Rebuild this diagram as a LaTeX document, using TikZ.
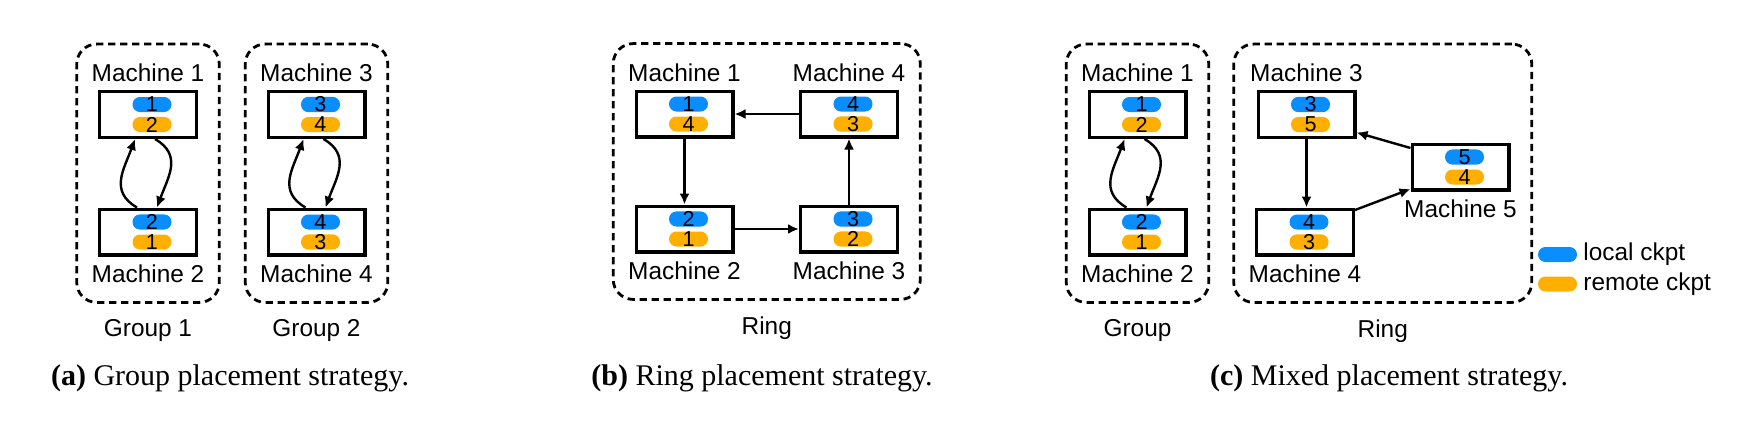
\documentclass[tikz,border=0pt]{standalone}
\usepackage{fontspec}
\setmainfont{Liberation Sans}
\newfontfamily\capfont{Liberation Serif}
\usepackage{tikz}
\usetikzlibrary{arrows.meta,positioning,fit,calc}
\definecolor{ckblue}{HTML}{0A8DFF}
\definecolor{ckorange}{HTML}{FFAF00}
\tikzset{
  mbox/.style ={draw, line width=1.7pt, minimum width=48.3pt, minimum height=22.8pt, inner sep=0pt},
  pill/.style ={rounded corners=3.7pt, minimum width=19.5pt, minimum height=7.5pt, inner sep=0pt,
                font=\fontsize{10.8}{10}\selectfont},
  loc/.style  ={pill, fill=ckblue},
  rem/.style  ={pill, fill=ckorange},
  mlab/.style ={inner sep=0pt, outer sep=0pt, font=\fontsize{12.2}{14}\selectfont},
  glab/.style ={mlab},
  grp/.style  ={draw, line width=1.4pt, dash pattern=on 3.6pt off 2.4pt, rounded corners=10pt,
                inner xsep=7.5pt, inner ysep=10pt},
  flow/.style ={-{Latex[length=5.5pt,width=5pt]}, line width=1.2pt},
  captxt/.style ={inner sep=0pt, font=\capfont\fontsize{15}{18}\selectfont},
}
\begin{document}
\begin{tikzpicture}[x=0.5pt,y=0.5pt]
  \useasboundingbox (0,0) rectangle (1738,420);
  % --- machines, each with a local and a remote ckpt ---
  \foreach \n/\x/\y/\l/\r in {a1/148/305.5/1/2, a2/148/188/2/1, a3/316.5/305.5/3/4, a4/316.5/188/4/3,
      b1/684.5/306/1/4, b4/849/306/4/3, b2/684.5/191/2/1, b3/849/191/3/2,
      c1/1137.5/305.5/1/2, c2/1137.5/188/2/1, c3/1306.5/305.5/3/5, c5/1460.5/253/5/4, c4/1305/188/4/3}{
    \node[mbox] (\n) at (\x,\y) {};
    \node[loc] (\n-loc) at ([xshift=2pt,yshift=5pt]\n.center) {\l};
    \node[rem] (\n-rem) at ([xshift=2pt,yshift=-5pt]\n.center) {\r};
  }
  % --- machine names ---
  \node[mlab,above=4pt of a1](a1-t){Machine 1};
  \node[mlab,below=4pt of a2](a2-t){Machine 2};
  \node[mlab,above=4pt of a3](a3-t){Machine 3};
  \node[mlab,below=4pt of a4](a4-t){Machine 4};
  \node[mlab,above=4pt of b1](b1-t){Machine 1};
  \node[mlab,above=4pt of b4](b4-t){Machine 4};
  \node[mlab,below=4pt of b2](b2-t){Machine 2};
  \node[mlab,below=4pt of b3](b3-t){Machine 3};
  \node[mlab,above=4pt of c1](c1-t){Machine 1};
  \node[mlab,below=4pt of c2](c2-t){Machine 2};
  \node[mlab,above=4pt of c3](c3-t){Machine 3};
  \node[mlab,below=4pt of c5](c5-t){Machine 5};
  \node[mlab,below=4pt of c4](c4-t){Machine 4};
  % --- (a) group placement ---
  \node[grp,fit=(a1-t)(a2-t)](ga1){};
  \node[grp,fit=(a3-t)(a4-t)](ga2){};
  \node[glab,below=8pt of ga1](ga1-t){Group 1};
  \node[glab,below=8pt of ga2](ga2-t){Group 2};
  \draw[flow] ([xshift=-5.5pt]a2.north) to[out=150,in=-110,looseness=1.2] ([xshift=-6.5pt]a1.south);
  \draw[flow] ([xshift=3.5pt]a1.south) to[out=-30,in=70,looseness=1.2] ([xshift=4.5pt]a2.north);
  \draw[flow] ([xshift=-5.5pt]a4.north) to[out=150,in=-110,looseness=1.2] ([xshift=-6.5pt]a3.south);
  \draw[flow] ([xshift=3.5pt]a3.south) to[out=-30,in=70,looseness=1.2] ([xshift=4.5pt]a4.north);
  % --- (b) ring placement ---
  \node[grp,fit=(b1-t)(b4-t)(b2-t)(b3-t)](gb){};
  \node[glab,below=8pt of gb](gb-t){Ring};
  \draw[flow] (b4) -- (b1);
  \draw[flow] (b1) -- (b2);
  \draw[flow] (b2) -- (b3);
  \draw[flow] (b3) -- (b4);
  % --- (c) mixed placement ---
  \node[grp,fit=(c1-t)(c2-t)](gc1){};
  \node[glab,below=8pt of gc1](gc1-t){Group};
  \node[grp,fit=(c3-t)(c4-t)(c5-t)](gc2){};
  \node[glab,below=8pt of gc2](gc2-t){Ring};
  \draw[flow] ([xshift=-5.5pt]c2.north) to[out=150,in=-110,looseness=1.2] ([xshift=-6.5pt]c1.south);
  \draw[flow] ([xshift=3.5pt]c1.south) to[out=-30,in=70,looseness=1.2] ([xshift=4.5pt]c2.north);
  \draw[flow] ([yshift=9.5pt]c5.west) -- ([yshift=-9pt]c3.east);
  \draw[flow] (c3.south) -- (c3.south|-c4.north);
  \draw[flow] ([yshift=11pt]c4.east) -- ([yshift=-11pt]c5.west);
  % --- legend ---
  \node[loc](lg-loc) at (1557.5,165.5){};
  \node[rem](lg-rem) at (1557.5,136){};
  \node[mlab,right=3pt of lg-loc](lg-loc-t){local ckpt};
  \node[mlab,right=3pt of lg-rem](lg-rem-t){remote ckpt};
  % --- captions ---
  \node[captxt,anchor=base](cap-a) at (230,35){\textbf{(a)} Group placement strategy.};
  \node[captxt,anchor=base](cap-b) at (762,35){\textbf{(b)} Ring placement strategy.};
  \node[captxt,anchor=base](cap-c) at (1389,35){\textbf{(c)} Mixed placement strategy.};
\end{tikzpicture}
\end{document}
